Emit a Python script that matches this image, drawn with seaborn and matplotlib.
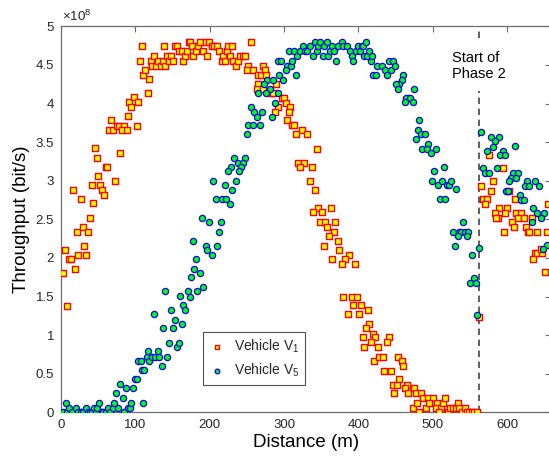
import matplotlib
matplotlib.use("Agg")
import matplotlib.pyplot as plt
import pandas as pd
import seaborn as sns
from matplotlib.ticker import FuncFormatter, MultipleLocator

# Throughput samples along the route, (distance in m, throughput in 1e8 bit/s)
v1_points = [
    (45.7, 3.42), (48.0, 3.30), (79.7, 3.36), (66.8, 3.78), (64.1, 3.66), (70.3, 3.66),
    (74.9, 3.71), (78.0, 3.71), (84.3, 3.71), (82.4, 3.66), (88.3, 3.66), (89.6, 3.84),
    (101.7, 3.71), (91.9, 4.02), (97.7, 4.08), (104.0, 4.02), (94.5, 3.95), (116.5, 4.14),
    (118.3, 4.32), (110.7, 4.37), (112.9, 4.44), (106.2, 4.55), (108.5, 4.74),
    (120.6, 4.55), (122.8, 4.49), (125.0, 4.62), (127.3, 4.49), (130.9, 4.55), (134.0, 4.49),
    (137.2, 4.55), (140.3, 4.49), (138.0, 4.74), (142.9, 4.62), (145.2, 4.55), (148.3, 4.62),
    (150.6, 4.55), (153.3, 4.74), (156.0, 4.74), (158.7, 4.68), (162.2, 4.68), (164.4, 4.55),
    (167.1, 4.62), (169.8, 4.68), (172.0, 4.80),
    (173.4, 4.80), (175.7, 4.74), (177.0, 4.62), (181.5, 4.68), (184.6, 4.74), (186.9, 4.80),
    (191.4, 4.68), (195.0, 4.80), (196.7, 4.62), (199.4, 4.80), (202.6, 4.74), (205.7, 4.74),
    (209.3, 4.74), (212.4, 4.68), (216.0, 4.55), (218.2, 4.62), (220.5, 4.55), (223.6, 4.68),
    (225.0, 4.74), (227.2, 4.62), (230.4, 4.74), (231.7, 4.55), (235.3, 4.49), (238.4, 4.55),
    (240.7, 4.62), (244.2, 4.62), (247.4, 4.62), (255.4, 4.80), (251.9, 4.49), (250.5, 4.43),
    (258.6, 4.43), (265.3, 4.37), (268.4, 4.37), (271.1, 4.49), (274.3, 4.43), (275.6, 4.37),
    (265.3, 4.25), (263.1, 4.19), (271.1, 4.19), (282.3, 4.13), (285.5, 4.13), (289.1, 4.25),
    (292.2, 3.95), (296.7, 4.07), (299.9, 4.07), (302.6, 4.01), (308.0, 3.95), (306.2, 3.89),
    (287.7, 3.89), (303.5, 3.78), (310.2, 3.72), (313.8, 3.72), (323.7, 3.66), (316.0, 3.60),
    (331.3, 3.60), (343.9, 3.41),
    (49.7, 3.06), (60.5, 3.18), (62.3, 3.18), (72.1, 3.00), (15.7, 2.88), (41.2, 2.94),
    (52.4, 2.94), (54.6, 2.88), (57.8, 2.82), (43.4, 2.71), (26.9, 2.76), (38.9, 2.52),
    (21.0, 2.34), (29.1, 2.40), (36.7, 2.34), (30.9, 2.16), (23.3, 2.04), (33.6, 2.04),
    (5.4, 2.10), (11.2, 1.98), (13.4, 1.98), (3.1, 1.80), (18.8, 1.86), (7.6, 1.38),
    (318.2, 3.23), (327.1, 3.23), (321.3, 3.18), (336.9, 3.18), (334.7, 3.00), (341.5, 2.88),
    (345.9, 2.64), (339.2, 2.59), (351.3, 2.59), (362.5, 2.64), (348.2, 2.46), (355.4, 2.46),
    (368.7, 2.46), (358.1, 2.40), (366.9, 2.34), (360.3, 2.28), (372.3, 2.22), (353.5, 2.16),
    (374.5, 2.10), (388.0, 2.04), (364.7, 1.98), (381.7, 1.98), (378.1, 1.92), (395.2, 1.92),
    (379.9, 1.50), (391.6, 1.50), (398.4, 1.50),
    (392.9, 1.385), (403.3, 1.385), (385.9, 1.27), (401.1, 1.27), (412.3, 1.325), (414.1, 1.14),
    (409.6, 1.09), (419.0, 1.02), (405.5, 0.97), (422.6, 0.97), (416.8, 0.91), (407.3, 0.84),
    (425.7, 0.84), (420.8, 0.66), (428.0, 0.72),
    (441.4, 0.97), (437.8, 0.91), (432.5, 0.72), (453.5, 0.72), (458.0, 0.66), (460.2, 0.60),
    (434.2, 0.54), (443.2, 0.54), (454.9, 0.43), (446.3, 0.36), (451.3, 0.36), (465.6, 0.36),
    (462.9, 0.31), (474.6, 0.31), (447.7, 0.25), (466.9, 0.25), (477.3, 0.25), (483.5, 0.25),
    (486.2, 0.18), (493.9, 0.18), (499.7, 0.18), (472.8, 0.06), (481.8, 0.0), (479.1, 0.12),
    (490.7, 0.06), (495.2, 0.12), (505.9, 0.12), (504.2, 0.06), (510.5, 0.06), (514.0, 0.12),
    (516.3, 0.18), (508.7, 0.0), (520.3, 0.0), (523.0, 0.06), (527.5, 0.06), (531.1, 0.06),
    (533.3, 0.12), (535.5, 0.06), (538.7, 0.0), (543.6, 0.06), (546.3, 0.0), (549.0, 0.0),
    (552.1, 0.0), (556.1, 0.0), (559.7, 0.0), (562.0, 1.23),
    (575.3, 3.33), (594.2, 3.16), (581.2, 2.99), (565.5, 2.93), (578.0, 2.87), (602.6, 2.87),
    (567.7, 2.76), (573.1, 2.76), (610.3, 2.76), (569.9, 2.70), (589.7, 2.64), (600.0, 2.64),
    (583.4, 2.58), (597.3, 2.58), (612.5, 2.58), (619.2, 2.58), (588.3, 2.52), (585.6, 2.52),
    (615.2, 2.52), (622.4, 2.52), (633.1, 2.52), (606.2, 2.46), (608.9, 2.40), (625.0, 2.40),
    (596.4, 2.34), (627.7, 2.34), (629.5, 2.34), (640.3, 2.34), (653.7, 2.34), (655.1, 2.70),
    (637.1, 2.06), (640.3, 2.06), (647.4, 2.06), (634.9, 1.99), (650.6, 1.82), (645.7, 2.11),
]

v5_points = [
    (6.2, 0.12), (3.1, 0.0), (7.6, 0.0), (11.2, 0.06), (14.3, 0.0), (20.1, 0.06), (23.3, 0.0),
    (26.9, 0.0), (30.0, 0.0), (33.6, 0.06), (36.7, 0.0), (38.9, 0.0), (41.2, 0.0), (44.8, 0.06),
    (47.0, 0.0), (48.8, 0.06), (51.5, 0.12), (54.6, 0.0), (56.9, 0.0), (60.5, 0.0), (63.6, 0.06),
    (65.9, 0.0), (69.4, 0.06), (71.7, 0.12), (73.9, 0.25), (77.1, 0.06), (79.3, 0.37),
    (82.9, 0.18), (84.7, 0.0), (87.4, 0.31), (89.6, 0.06), (92.7, 0.06), (94.1, 0.12),
    (97.2, 0.31), (99.5, 0.43), (102.6, 0.43), (103.9, 0.66), (107.1, 0.66), (108.5, 0.55),
    (111.6, 0.55), (110.7, 0.12), (115.1, 0.72), (117.4, 0.79), (118.7, 0.66), (121.9, 0.72),
    (125.0, 1.27), (126.4, 0.72), (130.9, 0.79), (132.2, 0.72), (136.3, 0.60), (137.6, 1.09),
    (143.0, 0.72), (145.7, 0.90), (147.5, 1.325), (150.2, 1.09), (153.3, 1.20), (156.5, 0.84),
    (158.7, 0.90), (162.3, 1.14), (164.5, 1.385), (167.2, 1.325),
    (139.8, 1.57), (160.0, 1.51), (170.2, 1.57),
    (232.9, 3.30), (247.7, 3.30), (237.4, 3.23), (245.0, 3.23), (228.5, 3.18), (241.5, 3.18),
    (224.5, 3.12), (239.7, 3.12), (204.3, 3.00), (220.0, 2.94), (235.1, 3.00), (230.6, 2.88),
    (207.9, 2.76), (216.9, 2.76), (222.2, 2.76), (226.7, 2.70), (189.1, 2.52), (198.9, 2.46),
    (215.5, 2.46), (212.4, 2.34), (177.0, 2.22), (194.5, 2.16), (210.2, 2.16), (196.7, 2.10),
    (202.6, 2.04), (181.1, 1.98), (178.9, 1.86), (186.9, 1.80), (174.8, 1.75), (191.4, 1.62),
    (183.3, 1.57), (173.4, 1.50),
    (291.3, 4.55), (295.8, 4.55), (306.1, 4.68), (313.7, 4.68), (317.7, 4.62), (321.3, 4.68),
    (325.8, 4.74), (328.1, 4.68), (331.2, 4.68), (334.8, 4.74), (338.4, 4.62), (341.5, 4.80),
    (343.8, 4.68), (346.0, 4.74), (348.2, 4.80), (351.8, 4.62), (354.0, 4.74), (357.2, 4.80),
    (359.4, 4.62), (361.7, 4.68), (364.8, 4.74), (367.0, 4.68), (369.7, 4.55), (372.8, 4.74),
    (377.4, 4.80), (379.5, 4.74), (384.1, 4.74), (388.5, 4.68), (391.6, 4.62), (393.0, 4.55),
    (396.2, 4.68), (399.7, 4.74), (402.0, 4.68), (404.3, 4.74), (406.4, 4.74), (409.7, 4.80),
    (407.8, 4.62), (411.0, 4.62), (414.1, 4.68), (416.4, 4.55), (417.7, 4.62), (419.9, 4.37),
    (423.1, 4.37), (425.3, 4.49),
    (303.4, 4.49), (308.8, 4.49), (302.1, 4.43), (310.6, 4.55), (293.5, 4.37), (298.9, 4.31),
    (315.9, 4.37), (277.4, 4.31), (285.4, 4.31), (272.9, 4.25), (281.0, 4.19), (265.3, 4.13),
    (275.1, 4.13), (287.7, 4.01), (292.2, 4.13), (255.4, 3.95), (259.9, 3.89), (270.6, 3.89),
    (263.1, 3.83), (283.3, 3.83), (251.8, 3.72), (257.7, 3.72), (267.5, 3.72), (249.7, 3.60),
    (431.1, 4.49), (435.6, 4.43), (437.8, 4.37), (441.4, 4.55), (445.9, 4.55), (443.6, 4.43),
    (448.6, 4.49), (460.2, 4.37), (458.0, 4.31), (454.9, 4.25), (450.4, 4.25), (453.1, 4.19),
    (474.6, 4.19), (466.5, 4.07), (463.8, 4.07), (469.2, 4.07), (462.5, 4.02), (472.8, 4.02),
    (481.8, 3.78), (479.5, 3.66), (483.5, 3.60), (477.3, 3.54), (489.4, 3.60), (485.8, 3.41),
    (493.8, 3.48), (491.6, 3.41), (505.0, 3.41), (497.4, 3.36),
    (565.5, 3.63), (578.0, 3.57), (588.8, 3.57), (583.4, 3.51), (581.2, 3.44), (573.1, 3.39),
    (594.6, 3.39), (610.3, 3.45), (591.0, 3.33), (596.8, 3.33),
    (514.9, 3.18), (501.5, 3.12), (499.2, 3.00), (507.3, 2.94), (511.8, 3.00), (518.5, 2.94),
    (522.1, 2.94), (524.3, 3.00), (531.1, 2.89), (509.5, 2.76), (516.7, 2.76), (540.0, 2.46),
    (527.5, 2.34), (535.1, 2.34), (537.8, 2.34), (543.2, 2.34), (547.7, 2.34), (533.3, 2.28),
    (545.4, 2.28), (529.3, 2.16), (562.6, 2.13), (552.8, 2.04), (555.5, 1.74), (550.1, 1.68),
    (558.1, 1.68), (559.7, 1.265),
    (567.7, 3.16), (569.9, 3.10), (575.3, 3.10), (586.5, 3.16), (608.0, 3.10), (615.2, 3.10),
    (605.8, 3.04), (612.5, 3.04), (602.6, 2.99), (627.3, 2.99), (637.1, 2.99), (624.6, 2.93),
    (629.5, 2.93), (643.0, 2.93), (599.0, 2.87), (601.3, 2.87), (617.0, 2.81), (619.2, 2.75),
    (622.4, 2.75), (634.9, 2.64), (640.3, 2.58), (650.1, 2.58), (645.7, 2.52), (633.1, 2.46),
    (653.7, 2.17), (648.3, 2.11),
]

series_labels = ["Vehicle V$_{1}$", "Vehicle V$_{5}$"]
phase2_start = 562.0
phase2_text = "Start of\nPhase 2"
x_ticks = [0, 100, 200, 300, 400, 500, 600]
y_ticks = [0, 0.5, 1, 1.5, 2, 2.5, 3, 3.5, 4, 4.5, 5]
SCALE = 1e8

frames = []
for label, pts in zip(series_labels, [v1_points, v5_points]):
    d = pd.DataFrame(pts, columns=["distance", "throughput"])
    d["throughput"] = d["throughput"] * SCALE
    d["vehicle"] = label
    frames.append(d)
df = pd.concat(frames, ignore_index=True)

sns.set_style("white")
plt.rcParams["font.family"] = ["Liberation Sans", "DejaVu Sans"]
plt.rcParams["mathtext.fontset"] = "custom"
plt.rcParams["mathtext.rm"] = "Liberation Sans"
plt.rcParams["mathtext.it"] = "Liberation Sans:italic"
plt.rcParams["mathtext.bf"] = "Liberation Sans:bold"

fig = plt.figure(figsize=(5.49, 4.62), dpi=100)
ax = fig.add_axes([61 / 549, 1 - 412.3 / 462, 490 / 549, 386 / 462])

styles = {
    series_labels[0]: dict(marker="s", s=14, color="#FFFF00", edgecolor="#FF0000", linewidth=1.0),
    series_labels[1]: dict(marker="o", s=20, color="#00FF00", edgecolor="#0000FF", linewidth=0.9),
}
for label in series_labels:
    sub = df[df["vehicle"] == label]
    sns.scatterplot(data=sub, x="distance", y="throughput", ax=ax, label=label,
                    zorder=3, **styles[label])

ax.set_xlim(0, 659)
ax.set_ylim(0, 5 * SCALE)
ax.set_xticks(x_ticks)
ax.set_yticks([t * SCALE for t in y_ticks])
ax.yaxis.set_major_formatter(FuncFormatter(lambda v, p: f"{v / SCALE:g}"))

axis_col = "#262626"
for sp in ax.spines.values():
    sp.set_color("#6e6e6e")
    sp.set_linewidth(0.9)
ax.tick_params(axis="both", which="both", direction="in", top=True, right=True,
               length=4, width=0.8, color="#6e6e6e", labelsize=9.5,
               labelcolor=axis_col, pad=5)

ax.set_xlabel("Distance (m)", fontsize=13.5, color="black", labelpad=2)
ax.set_ylabel("Throughput (bit/s)", fontsize=13.5, color="black", labelpad=4)

ax.text(0.002, 1.006, "×10$^{8}$", transform=ax.transAxes, ha="left", va="bottom",
        fontsize=9.5, color=axis_col)

ax.axvline(phase2_start, color="#333333", lw=1.1, ls=(0, (4.2, 3.0)), zorder=2)
ax.text(phase2_start, 4.49 * SCALE, phase2_text, ha="center", va="center",
        multialignment="left", fontsize=10.5, color="black", zorder=4,
        bbox=dict(facecolor="white", edgecolor="none", pad=7))

leg = ax.legend(loc="lower left", bbox_to_anchor=(0.29, 0.072), borderaxespad=0,
                fontsize=10, frameon=True, fancybox=False, handlelength=1.2,
                handletextpad=0.6, labelspacing=0.45, borderpad=0.4, markerscale=0.75)
leg.get_frame().set_edgecolor("#262626")
leg.get_frame().set_linewidth(0.8)

fig.savefig("out.png", dpi=100, facecolor="white")
